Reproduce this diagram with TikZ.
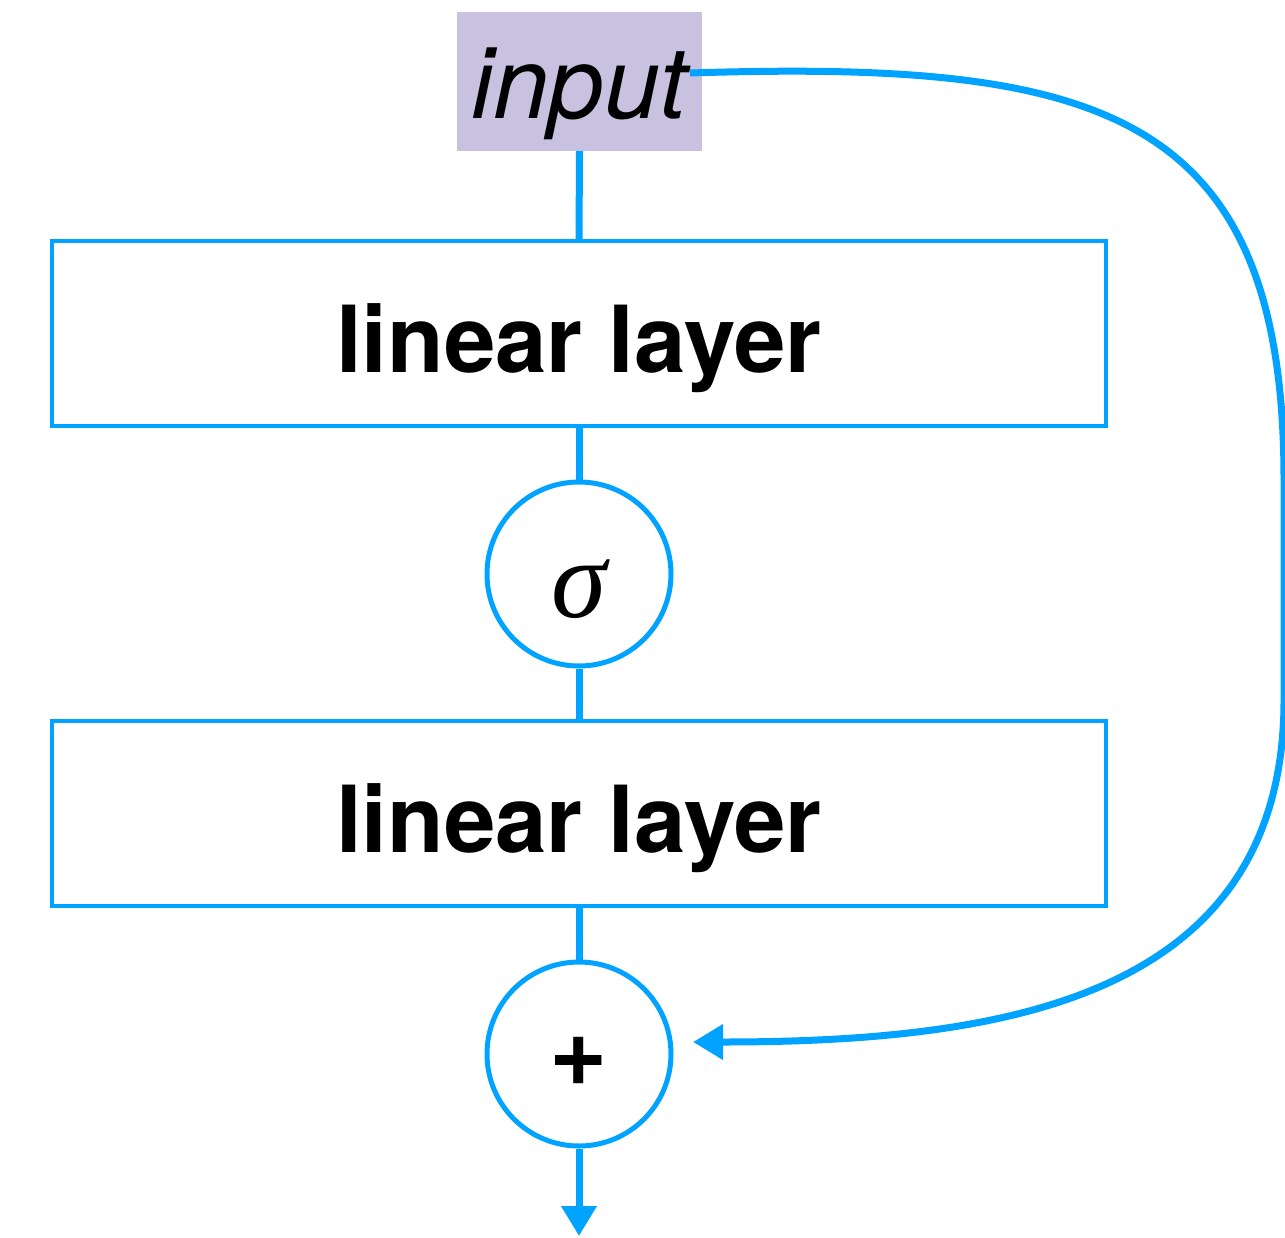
\documentclass[tikz,border=0pt]{standalone}
\usepackage{fontspec}
\setmainfont{TeX Gyre Heros}
\newfontfamily\greekfont{Liberation Serif}
\usetikzlibrary{arrows.meta}
\definecolor{wire}{RGB}{0,163,255}
\definecolor{inputfill}{RGB}{200,194,224}
\tikzset{
  wireline/.style={draw=wire, line width=7pt},
  layerbox/.style={draw=wire, line width=4pt, fill=white, rectangle,
    minimum width=1054pt, minimum height=185pt, inner sep=0pt,
    font=\fontsize{92.5}{100}\selectfont\bfseries,
    text height=77pt, text depth=0pt},
  opcircle/.style={draw=wire, line width=5pt, fill=white, circle,
    minimum size=184pt, inner sep=0pt},
  tip/.style={-{Triangle[length=30pt,width=34pt]}},
}
\begin{document}
\begin{tikzpicture}[x=1pt,y=-1pt]
  \useasboundingbox (0,0) rectangle (1285,1237);

  % input label
  \node[fill=inputfill, minimum width=245pt, minimum height=139pt, inner sep=0pt,
        font=\fontsize{100}{110}\selectfont\itshape,
        text height=73pt, text depth=0pt] (input) at (579.5,81.5) {input};

  % free ends: output arrow tip and the two ends of the skip connection
  \coordinate (out) at (579,1236);
  \coordinate (skipstart) at (690,73);
  \coordinate (skipend) at (693,1042);

  % main path
  \node[layerbox] (lin1) at (579,333.5) {linear layer};
  \node[opcircle, font=\fontsize{112}{120}\selectfont\greekfont\itshape,
        text height=86pt, text depth=0pt] (act) at (579,574) {σ};
  \node[layerbox] (lin2) at (579,813.5) {linear layer};
  \node[opcircle, font=\fontsize{100}{110}\selectfont\bfseries,
        text height=62pt, text depth=0pt] (plus) at (579,1054) {+};

  % connectors along the main path
  \draw[wireline] (input.south) -- (lin1.north);
  \draw[wireline] (lin1.south) -- (act.north);
  \draw[wireline] (act.south) -- (lin2.north);
  \draw[wireline] (lin2.south) -- (plus.north);
  \draw[wireline, tip] (plus.south) -- (out);

  % skip connection
  \draw[wireline, tip]
    (skipstart) .. controls (1100,60) and (1284,110) .. (1284,480)
    -- (1284,700)
    .. controls (1284,1000) and (1000,1042) .. (skipend);
\end{tikzpicture}
\end{document}
